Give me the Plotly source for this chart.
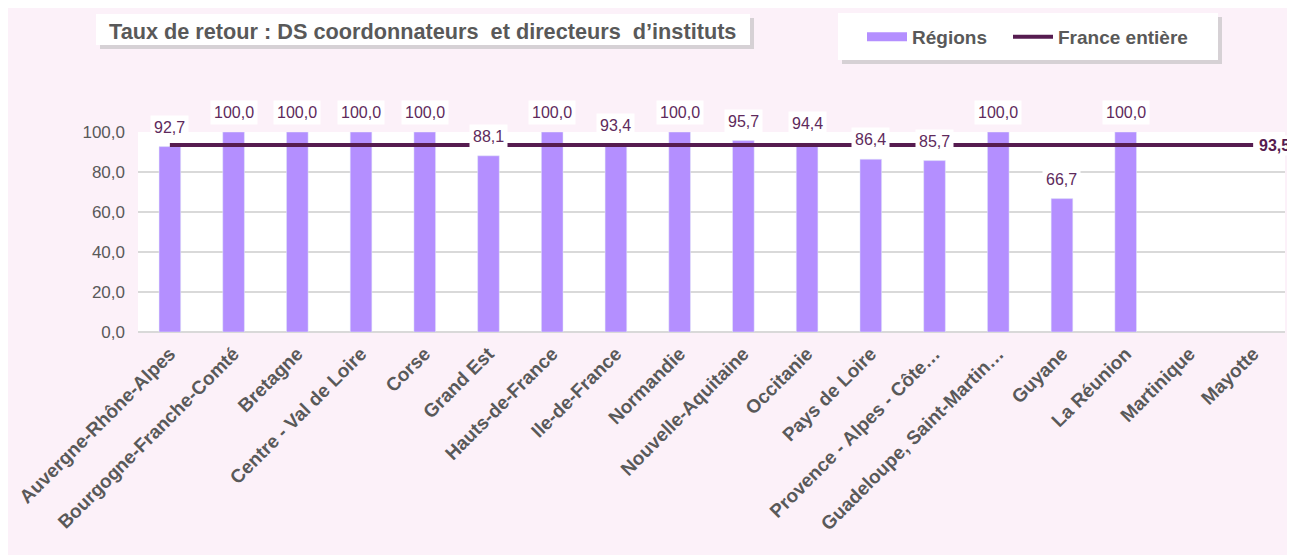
import plotly.graph_objects as go

regions = ["Auvergne-Rhône-Alpes", "Bourgogne-Franche-Comté", "Bretagne", "Centre - Val de Loire",
           "Corse", "Grand Est", "Hauts-de-France", "Ile-de-France", "Normandie", "Nouvelle-Aquitaine",
           "Occitanie", "Pays de Loire", "Provence - Alpes - Côte…", "Guadeloupe, Saint-Martin…",
           "Guyane", "La Réunion", "Martinique", "Mayotte"]
taux = [92.7, 100.0, 100.0, 100.0, 100.0, 88.1, 100.0, 93.4, 100.0, 95.7,
        94.4, 86.4, 85.7, 100.0, 66.7, 100.0, None, None]
france_entiere = 93.5

BAR = "#B48FFF"
LINE = "#561C50"
LABEL = "#5E2A5C"
BG = "#FCF1F9"
GRAY = "#595959"
FONT = "Liberation Sans, Arial"

OFF = 8  # page body margin
W, H = 1295, 555
L, R, T, B = 138 - OFF, W + OFF - 1285, 132 - OFF, 555 - (332 - OFF)
pw, ph = W - L - R, H - T - B


def px(x):
    return (x - OFF - L) / pw


def py(y):
    return (H - B - (y - OFF)) / ph


fig = go.Figure()
fig.add_trace(go.Bar(x=regions, y=taux, marker_color=BAR, width=0.34, showlegend=False,
                     name="Régions"))
fig.add_trace(go.Scatter(x=[None], y=[None], mode="lines", name="Régions", legend="legend",
                         line=dict(color=BAR, width=9)))
fig.add_trace(go.Scatter(x=regions, y=[france_entiere] * len(regions), mode="lines",
                         name="France entière", legend="legend2", line=dict(color=LINE, width=4)))

fmt = lambda v: f"{v:.1f}".replace(".", ",")
for r, v in zip(regions, taux):
    if v is None:
        continue
    fig.add_annotation(x=r, y=v, text=fmt(v), showarrow=False, yanchor="bottom", yshift=7,
                       bgcolor="white", borderpad=3,
                       font=dict(family=FONT, size=16, color=LABEL))
fig.add_annotation(x=regions[-1], y=france_entiere, text="<b>" + fmt(france_entiere) + "</b>",
                   showarrow=False, xanchor="left", xshift=4, bgcolor="white", borderpad=1,
                   font=dict(family=FONT, size=16, color=LINE))

shapes = []
# title box with shadow
shapes.append(dict(type="rect", xref="paper", yref="paper", x0=px(100), x1=px(754), y0=py(49), y1=py(18),
                   fillcolor="#BDBDBD", line_width=0, layer="above", opacity=0.6))
shapes.append(dict(type="rect", xref="paper", yref="paper", x0=px(96), x1=px(750), y0=py(45), y1=py(14),
                   fillcolor="white", line_width=0, layer="above"))
# legend box with shadow
shapes.append(dict(type="rect", xref="paper", yref="paper", x0=px(842), x1=px(1222), y0=py(64), y1=py(17),
                   fillcolor="#BDBDBD", line_width=0, layer="above", opacity=0.6))
shapes.append(dict(type="rect", xref="paper", yref="paper", x0=px(838), x1=px(1218), y0=py(60), y1=py(13),
                   fillcolor="white", line_width=0, layer="above"))
fig.update_layout(shapes=shapes)

fig.add_annotation(xref="paper", yref="paper", x=px(422), y=py(31), xanchor="center", yanchor="middle",
                   text="<b>Taux de retour : DS coordonnateurs  et directeurs  d’instituts</b>",
                   showarrow=False, font=dict(family=FONT, size=21.7, color=GRAY))

leg_font = dict(family=FONT, size=19, color=GRAY, weight="bold")
fig.update_layout(
    width=W, height=H,
    margin=dict(l=L, r=R, t=T, b=B, autoexpand=False),
    paper_bgcolor=BG, plot_bgcolor="white",
    separators=",.",
    legend=dict(orientation="h", x=px(862), y=py(37), xanchor="left", yanchor="middle",
                bgcolor="rgba(0,0,0,0)", itemwidth=40, font=leg_font),
    legend2=dict(orientation="h", x=px(1008), y=py(37), xanchor="left", yanchor="middle",
                 bgcolor="rgba(0,0,0,0)", itemwidth=40, font=leg_font),
    xaxis=dict(tickangle=-45, showgrid=False, showline=False, ticks="", range=[-0.5, 17.5],
               ticklabelstandoff=6,
               tickfont=dict(family=FONT, size=19, color=GRAY, weight="bold")),
    yaxis=dict(range=[0, 100], tickvals=[0, 20, 40, 60, 80, 100], tickformat=".1f",
               gridcolor="#D9D9D9", gridwidth=2, zeroline=True, zerolinecolor="#D9D9D9", zerolinewidth=2,
               showline=False, ticks="", ticklabelstandoff=12,
               tickfont=dict(family=FONT, size=17, color=GRAY)),
)

fig.write_html("out.html")
